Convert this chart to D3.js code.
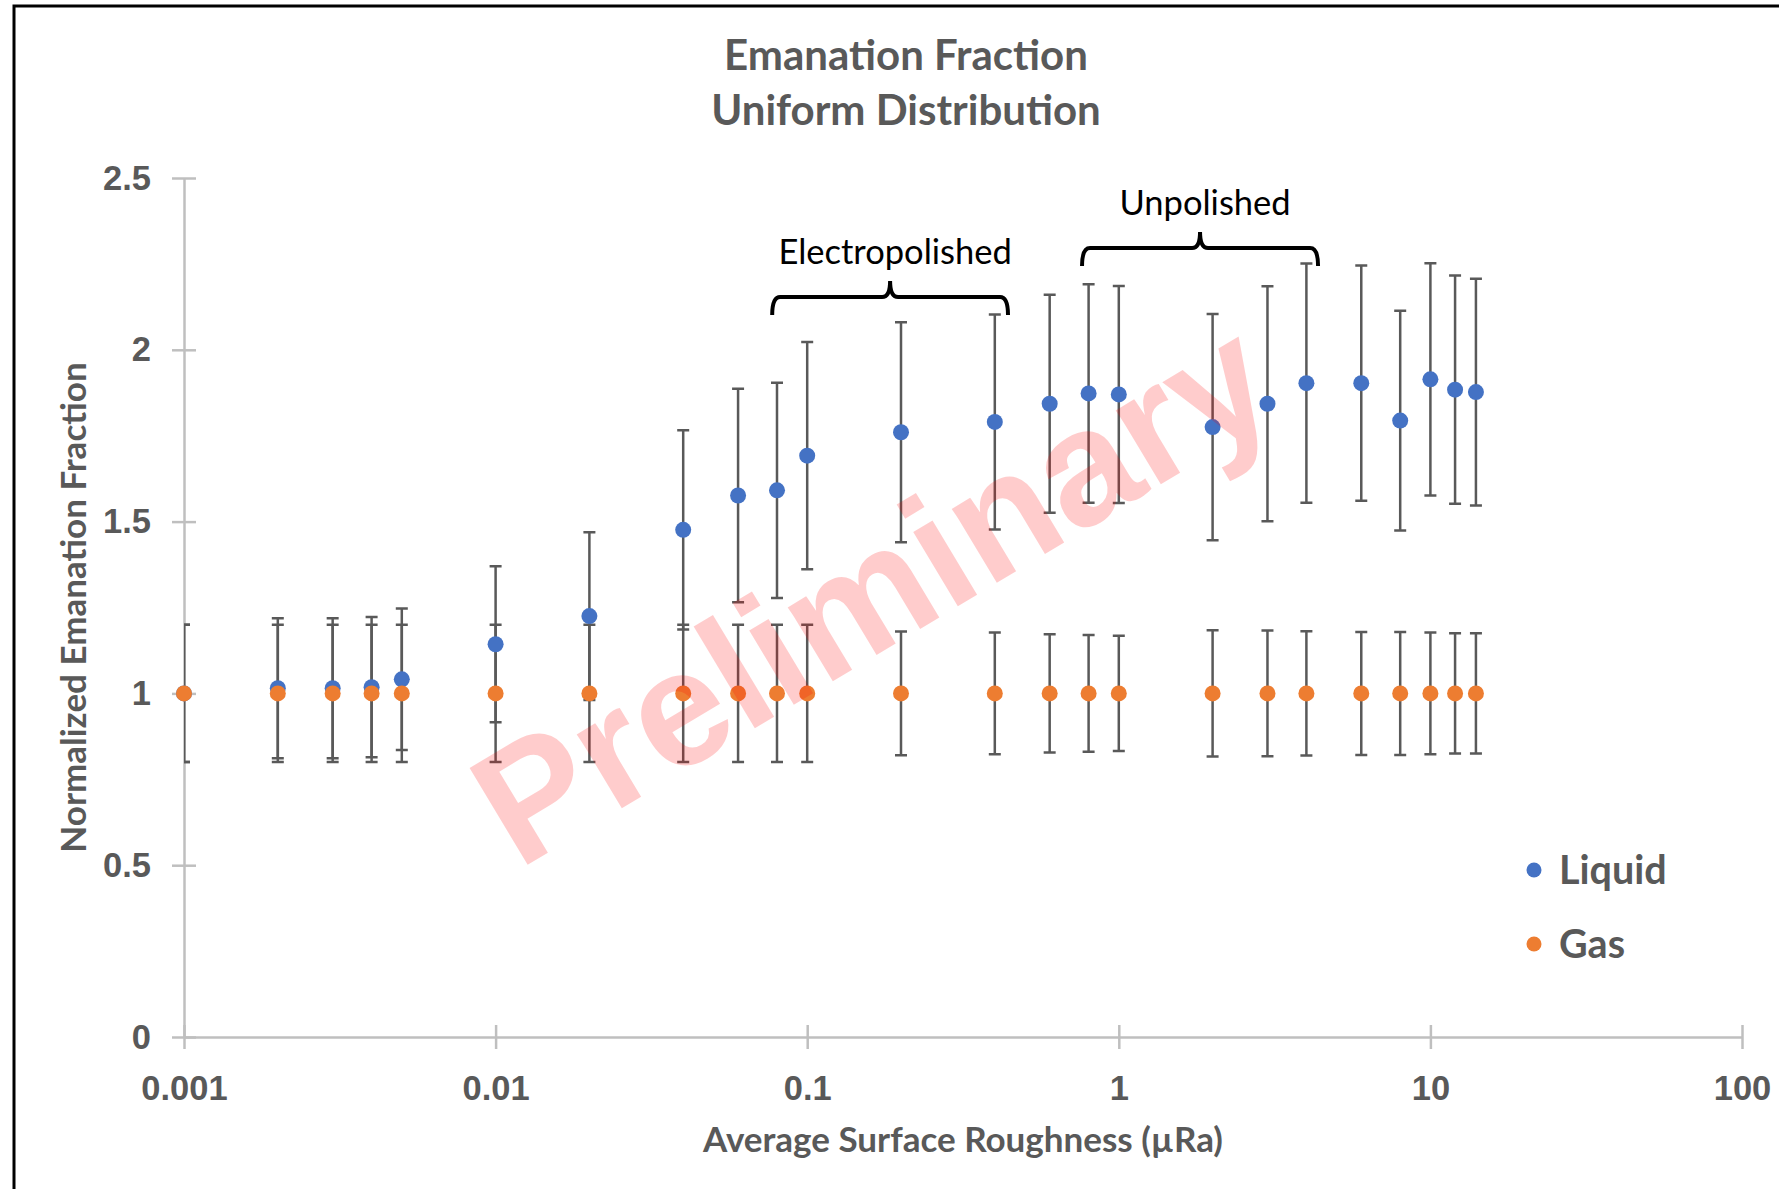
<!DOCTYPE html>
<html lang="en">

<head>
    <meta charset="UTF-8">
    <title>Emanation Fraction - Uniform Distribution</title>
    <script src="https://d3js.org/d3.v7.min.js"></script>
    <style>
        body {
            margin: 0;
            background: #ffffff;
        }

        svg {
            display: block;
            font-family: Lato, 'Open Sans', sans-serif;
        }

        .axis path,
        .axis line {
            stroke: #bfbfbf;
            stroke-width: 2.5;
        }

        .axis text {
            fill: #595959;
            font-weight: 700;
            font-size: 34.5px;
        }
    </style>
</head>

<body>
    <svg id="chart"></svg>
    <script>
        // surface roughness (µRa) of each sample
        const roughness = [0.001, 0.002, 0.003, 0.004, 0.005, 0.01, 0.02, 0.04, 0.06, 0.08, 0.1,
            0.2, 0.4, 0.6, 0.8, 1, 2, 3, 4, 6, 8, 10, 12, 14];
        const liquidValues = [1.0, 1.015, 1.015, 1.018, 1.041, 1.143, 1.225, 1.476, 1.576, 1.591, 1.692,
            1.760, 1.790, 1.843, 1.873, 1.870, 1.775, 1.843, 1.903, 1.903, 1.794, 1.914, 1.884, 1.877];
        const liquidErrors = [0.2, 0.204, 0.204, 0.204, 0.206, 0.227, 0.244, 0.29, 0.311, 0.313, 0.331,
            0.32, 0.313, 0.317, 0.318, 0.316, 0.329, 0.342, 0.348, 0.342, 0.32, 0.338, 0.332, 0.33];
        const gasValues = [1, 1, 1, 1, 1, 1, 1, 1, 1, 1, 1,
            1, 1, 1, 1, 1, 1, 1, 1, 1, 1, 1, 1, 1];
        const gasErrors = [0.2, 0.2, 0.2, 0.2, 0.2, 0.2, 0.2, 0.2, 0.2, 0.2, 0.2,
            0.18, 0.177, 0.172, 0.17, 0.168, 0.184, 0.183, 0.181, 0.179, 0.179, 0.177, 0.175, 0.175];

        const xTicks = [0.001, 0.01, 0.1, 1, 10, 100];
        const yTicks = [0, 0.5, 1, 1.5, 2, 2.5];

        // bracket annotations: [from, to] in µRa, height of the bar in data units
        const brackets = [
            { label: "Electropolished", from: 0.0772, to: 0.441, y: 2.154 },
            { label: "Unpolished", from: 0.762, to: 4.36, y: 2.296 }
        ];

        const series = [
            { name: "Liquid", color: "#4472c4", values: liquidValues, errors: liquidErrors },
            { name: "Gas", color: "#ed7d31", values: gasValues, errors: gasErrors }
        ];

        const width = 1779;
        const height = 1189;
        const plot = { left: 184, right: 1742, top: 178, bottom: 1037 };

        const svg = d3.select("#chart")
            .attr("width", width)
            .attr("height", height);

        svg.append("rect")
            .attr("width", width)
            .attr("height", height)
            .attr("fill", "#ffffff");

        // black frame of the slide (left and top edges visible)
        svg.append("path")
            .attr("d", `M14,${height} V6 H${width}`)
            .attr("fill", "none")
            .attr("stroke", "#000")
            .attr("stroke-width", 3);

        const x = d3.scaleLog()
            .domain([0.001, 100])
            .range([plot.left, plot.right]);

        const y = d3.scaleLinear()
            .domain([0, 2.5])
            .range([plot.bottom, plot.top]);

        // title
        const title = svg.append("text")
            .attr("text-anchor", "middle")
            .attr("fill", "#595959")
            .attr("font-weight", 700)
            .attr("font-size", 42);
        title.append("tspan").attr("x", 906).attr("y", 70).text("Emanation Fraction");
        title.append("tspan").attr("x", 906).attr("y", 125).text("Uniform Distribution");

        // axes
        const yAxis = svg.append("g")
            .attr("class", "axis")
            .attr("transform", `translate(${plot.left},0)`)
            .call(d3.axisLeft(y)
                .tickValues(yTicks)
                .tickFormat(d => String(d))
                .tickSize(12)
                .tickSizeOuter(0)
                .tickPadding(21));
        yAxis.selectAll(".tick line").attr("x1", 12);

        const xAxis = svg.append("g")
            .attr("class", "axis")
            .attr("transform", `translate(0,${plot.bottom})`)
            .call(d3.axisBottom(x)
                .tickValues(xTicks)
                .tickFormat(d => String(d))
                .tickSize(12)
                .tickSizeOuter(0));
        xAxis.selectAll(".tick line").attr("y1", -12);
        xAxis.selectAll(".tick text").attr("dy", 0).attr("y", 63);

        svg.append("text")
            .attr("x", (plot.left + plot.right) / 2)
            .attr("y", 1152)
            .attr("text-anchor", "middle")
            .attr("fill", "#595959")
            .attr("font-weight", 700)
            .attr("font-size", 35)
            .text("Average Surface Roughness (µRa)");

        svg.append("text")
            .attr("transform", `translate(86,${(plot.top + plot.bottom) / 2}) rotate(-90)`)
            .attr("text-anchor", "middle")
            .attr("fill", "#595959")
            .attr("font-weight", 700)
            .attr("font-size", 35)
            .text("Normalized Emanation Fraction");

        // error bars are clipped to the plot area
        svg.append("clipPath")
            .attr("id", "plot-clip")
            .append("rect")
            .attr("x", plot.left)
            .attr("y", 0)
            .attr("width", plot.right - plot.left)
            .attr("height", height);

        const capHalf = 6;
        const barsGroup = svg.append("g").attr("clip-path", "url(#plot-clip)");

        series.forEach(s => {
            const g = barsGroup.append("g")
                .attr("stroke", "#595959")
                .attr("stroke-width", 2.5)
                .attr("fill", "none");
            roughness.forEach((r, i) => {
                const cx = x(r);
                const top = y(s.values[i] + s.errors[i]);
                const bottom = y(s.values[i] - s.errors[i]);
                g.append("path")
                    .attr("d", `M${cx},${top} V${bottom} M${cx - capHalf},${top} H${cx + capHalf} M${cx - capHalf},${bottom} H${cx + capHalf}`);
            });
        });

        series.forEach(s => {
            svg.append("g")
                .selectAll("circle")
                .data(roughness)
                .enter()
                .append("circle")
                .attr("cx", d => x(d))
                .attr("cy", (d, i) => y(s.values[i]))
                .attr("r", 8)
                .attr("fill", s.color);
        });

        // brackets with labels
        brackets.forEach(b => {
            const x0 = x(b.from);
            const x1 = x(b.to);
            const xc = (x0 + x1) / 2;
            const y0 = y(b.y);
            const drop = 18;
            const peak = 16;
            const r = 8;
            svg.append("path")
                .attr("d", `M${x0},${y0 + drop} Q${x0},${y0} ${x0 + r},${y0} L${xc - r},${y0} Q${xc},${y0} ${xc},${y0 - peak} Q${xc},${y0} ${xc + r},${y0} L${x1 - r},${y0} Q${x1},${y0} ${x1},${y0 + drop}`)
                .attr("fill", "none")
                .attr("stroke", "#000")
                .attr("stroke-width", 4);
            svg.append("text")
                .attr("x", xc + 5)
                .attr("y", y0 - 33)
                .attr("text-anchor", "middle")
                .attr("fill", "#000")
                .attr("font-size", 34.5)
                .text(b.label);
        });

        // legend
        const legend = svg.append("g").attr("transform", "translate(1534,870)");
        series.forEach((s, i) => {
            const row = legend.append("g").attr("transform", `translate(0,${i * 74})`);
            row.append("circle").attr("r", 7.5).attr("fill", s.color);
            row.append("text")
                .attr("x", 25)
                .attr("dy", "0.35em")
                .attr("fill", "#595959")
                .attr("font-weight", 700)
                .attr("font-size", 39.5)
                .text(s.name);
        });

        // watermark
        svg.append("text")
            .attr("transform", "translate(872,592) rotate(-31)")
            .attr("text-anchor", "middle")
            .attr("dominant-baseline", "central")
            .attr("font-family", "'Liberation Sans', Arial, sans-serif")
            .attr("font-weight", 700)
            .attr("font-size", 164)
            .attr("fill", "rgba(255,0,0,0.2)")
            .text("Preliminary");
    </script>
</body>

</html>
